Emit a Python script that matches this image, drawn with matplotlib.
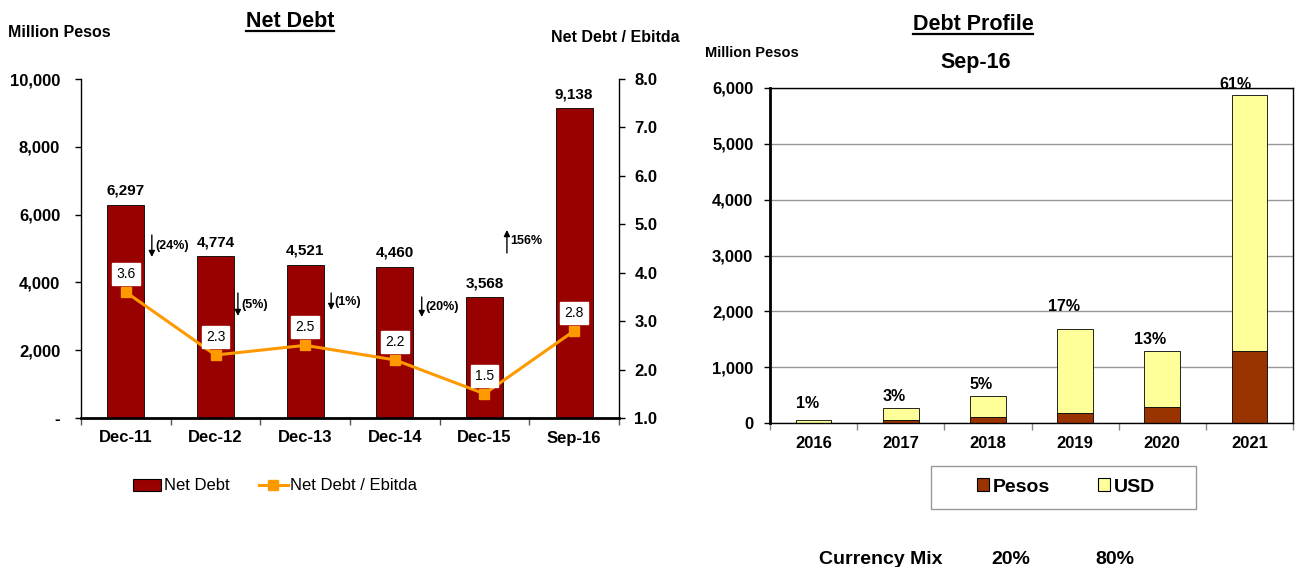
import numpy as np
import matplotlib
matplotlib.use('Agg')
import matplotlib.pyplot as plt
from matplotlib.patches import Patch, Rectangle
from matplotlib.lines import Line2D
from matplotlib.ticker import FuncFormatter

plt.rcParams['font.family'] = ['Liberation Sans', 'DejaVu Sans']
plt.rcParams['font.weight'] = 'bold'

# --- Net debt history ---
periods = ['Dec-11', 'Dec-12', 'Dec-13', 'Dec-14', 'Dec-15', 'Sep-16']
net_debt = [6297, 4774, 4521, 4460, 3568, 9138]
debt_ebitda = [3.6, 2.3, 2.5, 2.2, 1.5, 2.8]

# --- Maturity profile (million pesos) ---
years = ['2016', '2017', '2018', '2019', '2020', '2021']
pesos = [5, 60, 108, 185, 287, 1297]
usd = [55, 215, 382, 1505, 1008, 4573]

# arrows between bars: x, start, end (left axis units)
arrow_pos = [(0.29, 5398, 4749), (1.25, 3687, 3009), (2.29, 3687, 3186),
             (3.30, 3569, 2979), (4.25, 4867, 5546)]
# nudges (points) for the share labels on top of the stacks
share_nudge = [(-4, 11.5), (-5, 8), (-5, 8), (-8, 16), (-9, 8), (-10, 7.5)]

W, H = 1296, 567
RED = '#990000'
ORANGE = '#FF9900'
BROWN = '#993300'
YELLOW = '#FFFF99'


def box(x0, y0, x1, y1):
    return [x0 / W, 1 - y1 / H, (x1 - x0) / W, (y1 - y0) / H]


def fig_text(px, py, s, **kw):
    return fig.text(px / W, 1 - py / H, s, **kw)


def underline(txt, gap=1.0):
    fig.canvas.draw()
    bb = txt.get_window_extent().transformed(fig.transFigure.inverted())
    y = bb.y0 + gap / H
    fig.add_artist(Line2D([bb.x0, bb.x1], [y, y], transform=fig.transFigure,
                          color='black', lw=1.6))


fig = plt.figure(figsize=(W / 100, H / 100), dpi=100)

# ================= Net Debt =================
x = np.arange(len(periods))
ax1 = fig.add_axes(box(81, 79, 619, 418))
ax2 = ax1.twinx()

ax1.bar(x, net_debt, width=0.41, color=RED, edgecolor='black', lw=0.6, zorder=2)
ax1.set_xlim(-0.5, len(periods) - 0.5)
ax1.set_ylim(0, 10000)
ax1.set_yticks(np.arange(0, 10001, 2000))
ax1.yaxis.set_major_formatter(FuncFormatter(lambda v, p: '-' if v == 0 else f'{v:,.0f}'))
ax1.tick_params(axis='y', length=4, width=1, pad=11, labelsize=12)
ax1.set_xticks(np.arange(-0.5, len(periods)), labels=[])
ax1.set_xticks(x, labels=periods, minor=True)
ax1.tick_params(axis='x', which='major', length=5, width=1, color='#555555')
ax1.tick_params(axis='x', which='minor', length=0, pad=9, labelsize=12)
for s in ['top', 'right']:
    ax1.spines[s].set_visible(False)
ax1.spines['bottom'].set_linewidth(2)
ax1.spines['left'].set_linewidth(1)

for i, v in enumerate(net_debt):
    ax1.annotate(f'{v:,}', (i, v), xytext=(0, 10), textcoords='offset points',
                 ha='center', va='center', fontsize=11)

# percent change arrows
for i, (ax_x, y0, y1) in enumerate(arrow_pos):
    chg = (net_debt[i + 1] / net_debt[i] - 1) * 100
    label = f'({abs(chg):.0f}%)' if chg < 0 else f'{chg:.0f}%'
    ax1.annotate('', xy=(ax_x, y1), xytext=(ax_x, y0),
                 arrowprops=dict(arrowstyle='-|>', color='black', lw=1,
                                 mutation_scale=9, shrinkA=0, shrinkB=0))
    ax1.annotate(label, ((ax_x), (y0 + y1) / 2), xytext=(2.5, 0),
                 textcoords='offset points', ha='left', va='center', fontsize=9)

ax2.plot(x, debt_ebitda, color=ORANGE, lw=2.2, marker='s', ms=6.5, zorder=3)
ax2.set_ylim(1, 8)
ax2.set_yticks(np.arange(1, 8.01, 1))
ax2.yaxis.set_major_formatter(FuncFormatter(lambda v, p: f'{v:.1f}'))
ax2.tick_params(axis='y', length=4, width=1, pad=7, labelsize=12)
for s in ['top', 'left', 'bottom']:
    ax2.spines[s].set_visible(False)
ax2.spines['right'].set_linewidth(1)
for i, v in enumerate(debt_ebitda):
    ax2.annotate(f'{v:.1f}', (i, v), xytext=(0, 13), textcoords='offset points',
                 ha='center', va='center', fontsize=10, fontweight='normal',
                 bbox=dict(boxstyle='square,pad=0.3', fc='white', ec='white'))

t = fig_text(290, 27, 'Net Debt', ha='center', va='baseline', fontsize=15.5)
underline(t)
fig_text(8, 37, 'Million Pesos', ha='left', va='baseline', fontsize=11.5)
fig_text(680, 42, 'Net Debt / Ebitda', ha='right', va='baseline', fontsize=11.5)

fig.legend(handles=[Patch(fc=RED, ec='black', lw=0.8),
                    Line2D([], [], color=ORANGE, lw=2.2, marker='s', ms=6.5)],
           labels=['Net Debt', 'Net Debt / Ebitda'], loc='center',
           bbox_to_anchor=(275 / W, 1 - 486 / H), ncol=2, frameon=False,
           prop=dict(size=12, weight='normal'), handlelength=1.7,
           handletextpad=0.15, columnspacing=1.8)

# ================= Debt Profile =================
xr = np.arange(len(years))
ax3 = fig.add_axes(box(770, 88, 1293, 423))
ax3.bar(xr, pesos, width=0.41, color=BROWN, edgecolor='black', lw=0.6, zorder=2)
ax3.bar(xr, usd, width=0.41, bottom=pesos, color=YELLOW, edgecolor='black',
        lw=0.6, zorder=2)
ax3.set_xlim(-0.5, len(years) - 0.5)
ax3.set_ylim(0, 6000)
ax3.set_yticks(np.arange(0, 6001, 1000))
ax3.yaxis.set_major_formatter(FuncFormatter(lambda v, p: f'{v:,.0f}'))
ax3.tick_params(axis='y', length=4, width=1, pad=8, labelsize=12)
ax3.set_xticks(np.arange(-0.5, len(years)), labels=[])
ax3.set_xticks(xr, labels=years, minor=True)
ax3.tick_params(axis='x', which='major', length=5, width=1, color='#888888')
ax3.tick_params(axis='x', which='minor', length=0, pad=9, labelsize=12)
ax3.grid(axis='y', color='#999999', lw=1)
ax3.set_axisbelow(True)
for s in ax3.spines.values():
    s.set_color('black')
    s.set_linewidth(1)
ax3.spines['left'].set_linewidth(2)

totals = [p + u for p, u in zip(pesos, usd)]
grand = sum(totals)
for i, tot in enumerate(totals):
    dx, dy = share_nudge[i]
    ax3.annotate(f'{tot / grand * 100:.0f}%', (i, tot), xytext=(dx, dy),
                 textcoords='offset points', ha='center', va='center',
                 fontsize=11.5, annotation_clip=False)

t = fig_text(973, 30, 'Debt Profile', ha='center', va='baseline', fontsize=15.5)
underline(t)
fig_text(976, 68, 'Sep-16', ha='center', va='baseline', fontsize=15.5)
fig_text(705, 57, 'Million Pesos', ha='left', va='baseline', fontsize=10.5)

fig.add_artist(Rectangle((931 / W, 1 - 509 / H), 265 / W, 43 / H,
                         transform=fig.transFigure, fill=False,
                         ec='#999999', lw=1))
fig.legend(handles=[Patch(fc=BROWN, ec='black', lw=0.8),
                    Patch(fc=YELLOW, ec='black', lw=0.8)],
           labels=['Pesos', 'USD'], loc='center',
           bbox_to_anchor=(1066 / W, 1 - 487 / H), ncol=2, frameon=False,
           prop=dict(size=14, weight='bold'), handlelength=0.6,
           handleheight=0.6, handletextpad=0.2, columnspacing=2.5)

pesos_share = sum(pesos) / grand * 100
fig_text(881, 564, 'Currency Mix', ha='center', va='baseline', fontsize=14)
fig_text(1011, 564, f'{pesos_share:.0f}%', ha='center', va='baseline', fontsize=14)
fig_text(1115, 564, f'{100 - pesos_share:.0f}%', ha='center', va='baseline', fontsize=14)

fig.savefig('out.png', dpi=100)
